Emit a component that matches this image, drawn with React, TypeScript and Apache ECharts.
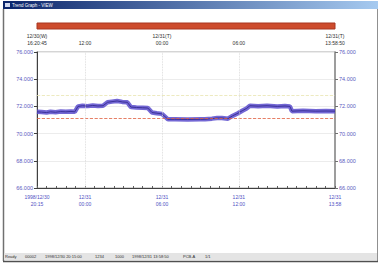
import React, { useEffect, useRef } from "react";
import * as echarts from "echarts";

// time in hours relative to 12/31 00:00 of the bottom axis (first labelled tick = 0)
const timeHours = [
  -3.75, -3.4, -3.0, -2.7, -2.3, -1.9, -1.5, -1.1, -0.8, -0.55, -0.2, 0.2, 0.6, 1.0, 1.4,
  1.75, 2.1, 2.5, 2.9, 3.3, 3.58, 4.0, 4.5, 4.9, 5.22, 5.6, 6.0, 6.47, 7.0, 8.0, 9.0, 9.35,
  9.9, 10.3, 10.68, 11.15, 11.5, 11.93, 12.3, 12.6, 12.86, 13.5, 14.2, 15.0, 15.6, 15.98,
  16.14, 17.0, 18.0, 18.8, 19.5,
];
const values = [
  71.6, 71.58, 71.55, 71.6, 71.57, 71.62, 71.6, 71.63, 71.6, 72.0, 72.05, 72.02, 72.07,
  72.03, 72.05, 72.3, 72.35, 72.4, 72.33, 72.3, 71.95, 71.92, 71.9, 71.88, 71.55, 71.5,
  71.45, 71.05, 71.05, 71.04, 71.05, 71.05, 71.1, 71.15, 71.15, 71.1, 71.3, 71.5, 71.7,
  71.85, 72.05, 72.02, 72.05, 72.0, 72.03, 72.0, 71.65, 71.68, 71.65, 71.66, 71.65,
];
const limitLow = 71.1;
const limitHigh = 72.8;
const gridTimes = [0, 6, 12];

const xMin = -3.75;
const xMax = 19.5;
const bottomLabels: Record<string, string> = {
  "-3.75": "1998/12/30\n20:15",
  "0": "12/31\n00:00",
  "6": "12/31\n06:00",
  "12": "12/31\n12:00",
  "19.5": "12/31\n13:58",
};
const topLabels: Record<string, string> = {
  "-3.75": "12/30(W)\n16:20:45",
  "0": "\n12:00",
  "6": "12/31(T)\n00:00",
  "12": "\n06:00",
  "19.5": "12/31(T)\n13:58:50",
};
const titleText = "Trend Graph - VIEW";
const statusItems = ["Ready", "00002", "1998/12/30 20:15:00", "1234", "1000", "1998/12/31 13:58:50", "PCB-A", "1/1"];
const statusX = [5, 25, 45, 95, 115, 132, 183, 205];

const FONT = "Liberation Sans";

export default function App() {
  const ref = useRef<HTMLDivElement>(null);
  useEffect(() => {
    const chart = echarts.init(ref.current!, null, { renderer: "svg" });
    const data = timeHours.map((t, i) => [t, values[i]]);
    const fmtKey = (v: number) => String(Math.round(v * 100) / 100);
    const graphics: any[] = [
      {
        type: "rect",
        shape: { x: 3, y: 1, width: 375, height: 8 },
        style: {
          fill: new echarts.graphic.LinearGradient(0, 0, 1, 0, [
            { offset: 0, color: "#0a246a" },
            { offset: 1, color: "#a6caf0" },
          ]),
        },
      },
      { type: "text", x: 12, y: 2.5, style: { text: titleText, fill: "#ffffff", font: `4.5px ${FONT}` } },
      { type: "rect", shape: { x: 5, y: 3, width: 5, height: 4 }, style: { fill: "#d0d8f0" } },
      { type: "line", shape: { x1: 3.5, y1: 9, x2: 3.5, y2: 261 }, style: { stroke: "#707070", lineWidth: 1.5 } },
      { type: "line", shape: { x1: 377.5, y1: 9, x2: 377.5, y2: 261 }, style: { stroke: "#909090", lineWidth: 1 } },
      { type: "rect", shape: { x: 4, y: 253, width: 373, height: 7 }, style: { fill: "#e4e4e4" } },
      { type: "line", shape: { x1: 3, y1: 261.5, x2: 378, y2: 261.5 }, style: { stroke: "#505050", lineWidth: 1.5 } },
    ];
    statusItems.forEach((s, i) => {
      graphics.push({
        type: "text",
        x: statusX[i],
        y: 254.5,
        style: { text: s, fill: "#303030", font: `4px ${FONT}` },
      });
    });

    chart.setOption({
      animation: false,
      backgroundColor: "#ffffff",
      textStyle: { fontFamily: FONT },
      graphic: graphics,
      grid: [
        { left: 37, right: 45, top: 52, bottom: 75, show: true, borderColor: "#c8c8c8", borderWidth: 1.5, backgroundColor: "#ffffff" },
        { left: 37, right: 45, top: 23, height: 6, show: true, borderColor: "#a83620", borderWidth: 1, backgroundColor: "#cd4b2c" },
      ],
      xAxis: [
        {
          type: "value",
          gridIndex: 0,
          min: xMin,
          max: xMax,
          interval: 0.75,
          axisLine: { onZero: false, lineStyle: { color: "#404040", width: 1 } },
          axisTick: { inside: true, length: 2, lineStyle: { color: "#606060" } },
          splitLine: { show: false },
          axisLabel: {
            interval: 0,
            showMinLabel: true,
            showMaxLabel: true,
            color: "#5050c4",
            fontSize: 5,
            lineHeight: 6.5,
            margin: 6,
            formatter: (v: number) => bottomLabels[fmtKey(v)] || "",
          },
        },
        {
          type: "value",
          gridIndex: 1,
          min: xMin,
          max: xMax,
          interval: 0.75,
          axisLine: { show: false, onZero: false },
          axisTick: { show: false },
          splitLine: { show: false },
          axisLabel: {
            interval: 0,
            showMinLabel: true,
            showMaxLabel: true,
            color: "#303030",
            fontSize: 5,
            lineHeight: 7,
            margin: 3,
            formatter: (v: number) => topLabels[fmtKey(v)] || "",
          },
        },
      ],
      yAxis: [
        {
          type: "value",
          gridIndex: 0,
          min: 66,
          max: 76,
          interval: 2,
          position: "left",
          axisLine: { show: true, onZero: false, lineStyle: { color: "#404040" } },
          axisTick: { show: true, length: 3, lineStyle: { color: "#404040" } },
          splitLine: { show: true, lineStyle: { color: "#ececec", width: 1 } },
          axisLabel: { color: "#5a5ac0", fontSize: 5.5, margin: 4, formatter: (v: number) => v.toFixed(3) },
        },
        {
          type: "value",
          gridIndex: 0,
          min: 66,
          max: 76,
          interval: 2,
          position: "right",
          axisLine: { show: true, onZero: false, lineStyle: { color: "#8a8a8a", width: 1.5 } },
          axisTick: { show: true, length: 3, lineStyle: { color: "#707070" } },
          splitLine: { show: false },
          axisLabel: { color: "#5a5ac0", fontSize: 5.5, margin: 4, formatter: (v: number) => v.toFixed(3) },
        },
        {
          type: "value",
          gridIndex: 1,
          min: 0,
          max: 1,
          show: false,
        },
      ],
      series: [
        {
          type: "line",
          xAxisIndex: 0,
          yAxisIndex: 0,
          data,
          showSymbol: false,
          lineStyle: { color: "#5a4ccc", width: 4.5, opacity: 0.85 },
          z: 3,
          markLine: {
            silent: true,
            symbol: "none",
            label: { show: false },
            data: [
              { yAxis: limitLow, lineStyle: { color: "#e06040", type: "dashed", width: 0.8 } },
              { yAxis: limitHigh, lineStyle: { color: "#e8e4b0", type: "dashed", width: 0.8 } },
              ...gridTimes.map((t) => ({ xAxis: t, lineStyle: { color: "#d4d4d4", type: "dotted", width: 0.8 } })),
            ],
          },
        },
        {
          type: "line",
          xAxisIndex: 0,
          yAxisIndex: 0,
          data,
          showSymbol: false,
          lineStyle: { color: "#3a3098", width: 1 },
          z: 4,
        },
      ],
    });
    return () => chart.dispose();
  }, []);
  return <div ref={ref} style={{ width: 380, height: 263, position: "absolute", left: 0, top: 0 }} />;
}
